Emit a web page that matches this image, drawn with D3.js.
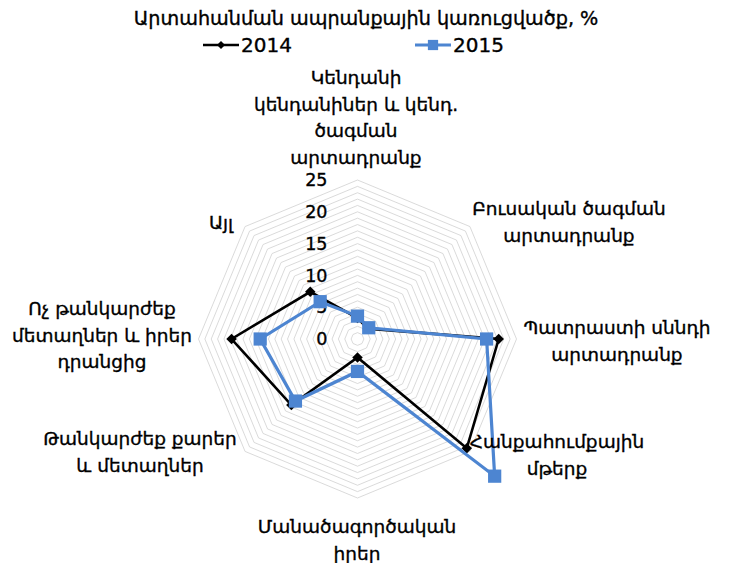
<!DOCTYPE html>
<html><head><meta charset="utf-8">
<script src="https://cdn.jsdelivr.net/npm/d3@7"></script>
<style>body{margin:0;background:#fff} text{stroke:#000;stroke-width:0.35px}</style>
</head><body><svg id="c" width="733" height="563"></svg>
<script>
const title = "Արտահանման ապրանքային կառուցվածք, %";
const categories = [
  "Կենդանի\nկենդանիներ և կենդ.\nծագման\nարտադրանք",
  "Բուսական ծագման\nարտադրանք",
  "Պատրաստի սննդի\nարտադրանք",
  "Հանքահումքային\nմթերք",
  "Մանածագործական\nիրեր",
  "Թանկարժեք քարեր\nև մետաղներ",
  "Ոչ թանկարժեք\nմետաղներ և իրեր\nդրանցից",
  "Այլ"
];
const seriesNames = ["2014", "2015"];
const values2014 = [3.3, 2.3, 22.2, 24.3, 2.9, 14.7, 19.8, 10.5];
const values2015 = [3.6, 2.5, 20.3, 30.5, 5.1, 13.8, 15.3, 8.3];
const tickValues = [0, 5, 10, 15, 20, 25];

// layout (not data)
const W = 733, H = 563;
const cx = 357.5, cy = 339, R = 159;
const FONT = "'DejaVu Sans', sans-serif";
const labelLayout = [
  {x: 356, y: 84}, {x: 569, y: 215}, {x: 617, y: 334}, {x: 557, y: 448},
  {x: 357, y: 533}, {x: 140, y: 445}, {x: 102, y: 315}, {x: 221, y: 229}
];
const lineGap = 26.5;

const svg = d3.select("#c");
const r = d3.scaleLinear().domain([0, 25]).range([0, R]);
const angle = d3.scaleBand().domain(d3.range(categories.length)).range([0, 2 * Math.PI]).paddingInner(0).paddingOuter(0).align(0);

const g = svg.append("g").attr("transform", `translate(${cx},${cy})`);

// grid octagons every unit
const gridLevels = d3.range(1, 26);
const radial = d3.lineRadial().angle((d, i) => angle(i)).radius(d => r(d)).curve(d3.curveLinearClosed);
g.selectAll("path.grid").data(gridLevels).join("path")
  .attr("class", "grid")
  .attr("d", lv => radial(categories.map(() => lv)))
  .attr("fill", "none").attr("stroke", "#d0d0d0").attr("stroke-width", 0.8);

// tick labels
g.selectAll("text.tick").data(tickValues).join("text")
  .attr("class", "tick")
  .attr("x", -30).attr("y", d => -r(d)).attr("dy", "0.35em")
  .attr("text-anchor", "end")
  .attr("font-family", FONT).attr("font-size", 17.5).attr("fill", "#000")
  .text(d => d);

// series
const series = [
  {name: seriesNames[0], values: values2014, color: "#000000", width: 2.6, symbol: d3.symbolSquare, size: 55, rotate: 45},
  {name: seriesNames[1], values: values2015, color: "#4d85d1", width: 3.2, symbol: d3.symbolSquare, size: 175, rotate: 0}
];
series.forEach(s => {
  g.append("path")
    .attr("d", radial(s.values))
    .attr("fill", "none").attr("stroke", s.color).attr("stroke-width", s.width)
    .attr("stroke-linejoin", "miter");
  g.selectAll(null).data(s.values).join("path")
    .attr("d", d3.symbol().type(s.symbol).size(s.size))
    .attr("fill", s.color)
    .attr("transform", (d, i) => {
      const a = angle(i) - Math.PI / 2;
      return `translate(${r(d) * Math.cos(a)},${r(d) * Math.sin(a)}) rotate(${s.rotate})`;
    });
});

// category labels
categories.forEach((c, i) => {
  const t = svg.append("text")
    .attr("font-family", FONT).attr("font-size", 18.5).attr("fill", "#000")
    .attr("text-anchor", "middle");
  c.split("\n").forEach((ln, j) => {
    t.append("tspan").attr("x", labelLayout[i].x).attr("y", labelLayout[i].y + j * lineGap).text(ln);
  });
});

// title
svg.append("text").attr("x", 366).attr("y", 25).attr("text-anchor", "middle")
  .attr("font-family", FONT).attr("font-size", 19.2).attr("fill", "#000").text(title);

// legend
const legendLayout = [{x: 203, y: 45}, {x: 415, y: 45}];
series.forEach((s, i) => {
  const L = svg.append("g").attr("transform", `translate(${legendLayout[i].x},${legendLayout[i].y})`);
  L.append("line").attr("x1", 0).attr("x2", 36).attr("y1", 0).attr("y2", 0)
    .attr("stroke", s.color).attr("stroke-width", s.width);
  L.append("path").attr("d", d3.symbol().type(s.symbol).size(s.size * 0.6))
    .attr("fill", s.color).attr("transform", `translate(18,0) rotate(${s.rotate})`);
  L.append("text").attr("x", 38).attr("y", 0).attr("dy", "0.35em")
    .attr("font-family", FONT).attr("font-size", 20).attr("fill", "#000").text(s.name);
});
</script>
</body></html>
